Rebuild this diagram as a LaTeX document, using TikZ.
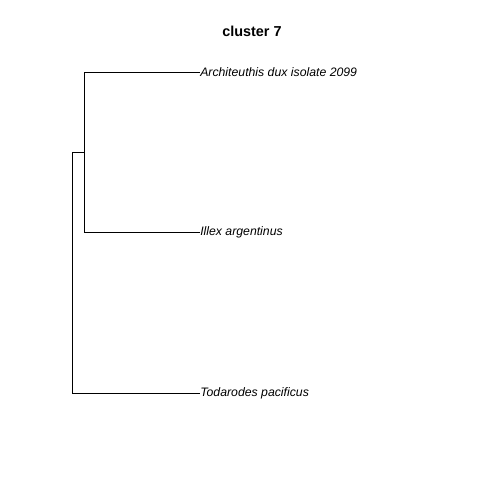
\documentclass[tikz,border=0pt]{standalone}
\usepackage{fontspec}
\setmainfont{Liberation Sans}
\usepackage{tikz}
\usetikzlibrary{positioning}

\begin{document}
\begin{tikzpicture}[x=0.75pt,y=-0.75pt,
  tip/.style={anchor=west,inner sep=0pt,font=\fontsize{9.2}{11}\selectfont\itshape},
  branch/.style={line width=0.75pt}]
\useasboundingbox (0,0) rectangle (480,480);
\node[font=\fontsize{10.8}{13}\selectfont\bfseries] (title) at (252,31) {cluster 7};
\coordinate (root) at (73,152);
\coordinate (inner) at (85,152);
\node[tip] (arch) at (200,72.5) {Architeuthis dux isolate 2099};
\node[tip] (illex) at (200,232.5) {Illex argentinus};
\node[tip] (toda) at (200,393.5) {Todarodes pacificus};
\draw[branch] (inner) |- (arch.west);
\draw[branch] (inner) |- (illex.west);
\draw[branch] (inner) -- (root) |- (toda.west);
\end{tikzpicture}
\end{document}
